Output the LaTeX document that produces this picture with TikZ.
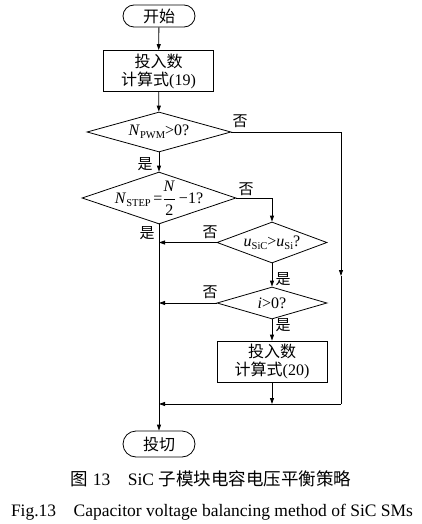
\documentclass[tikz,border=0pt]{standalone}
\usepackage{fontspec}
\setmainfont{Liberation Serif}
\newfontfamily\cjk{Noto Sans CJK SC}
\usetikzlibrary{arrows.meta,shapes.geometric}
\newcommand\mysub[1]{\raisebox{-0.4ex}{\fontsize{10.5}{12}\selectfont #1}}
\begin{document}
\begin{tikzpicture}[x=1pt,y=-1pt,
  font=\fontsize{16}{18}\selectfont,
  line/.style={draw, line width=0.8pt},
  arr/.style={line, -{Triangle[length=6pt,width=4pt]}},
  term/.style={draw, line width=0.8pt, minimum width=72pt, inner sep=0pt},
  proc/.style={draw, line width=0.8pt, minimum width=110pt, minimum height=41pt, inner sep=0pt, align=center},
  dec/.style={draw, diamond, line width=0.8pt, inner sep=0pt},
  lab/.style={font=\cjk\fontsize{15}{17}\selectfont, inner sep=0pt}]
\useasboundingbox (0,0) rectangle (422,524);
% nodes
\node[term, minimum height=22pt, rounded corners=11pt] (start) at (159,16) {\cjk 开始};
\node[proc] (box1) at (158.5,71) {{\cjk 投入数}\\{\cjk 计算式}(19)};
\node[dec, minimum width=144pt, minimum height=40pt] (d1) at (159,132) {};
\node at (d1) {\textit{N}\mysub{PWM}>0?};
\node[dec, minimum width=154pt, minimum height=52pt] (d2) at (159,198) {};
\node at (d2) {\textit{N}\mysub{STEP}\,=$\displaystyle\frac{\mbox{\textit{N}}}{\mbox{2}}$\,−1?};
\node[dec, minimum width=110pt, minimum height=41pt] (d3) at (272,242.5) {};
\node at (d3) {\textit{u}\mysub{SiC}>\textit{u}\mysub{Si}?};
\node[dec, minimum width=110pt, minimum height=32pt] (d4) at (272,303) {};
\node at (d4) {\textit{i}>0?};
\node[proc] (box2) at (272,361.5) {{\cjk 投入数}\\{\cjk 计算式}(20)};
\node[term, minimum height=26pt, rounded corners=13pt] (stop) at (159,444) {\cjk 投切};
% coordinates
\coordinate (rarr) at (341,276);
\coordinate (r2) at (341,404);
\coordinate (m3) at (159,404);
\coordinate (b2m) at (272,404);
% connectors
\draw[arr] (start) -- (box1);
\draw[arr] (box1) -- (d1);
\draw[arr] (d1.south) -- (d2.north);
\draw[arr] (d1.east) -| (rarr);
\draw[line] (rarr) -- (r2);
\draw[arr] (r2) -- (m3);
\draw[arr] (d2.south) -- (stop.north);
\draw[arr] (d2.east) -| (d3.north);
\draw[arr] (d3.west) -- (d3.west -| d2.center);
\draw[arr] (d3.south) -- (d4.north);
\draw[arr] (d4.west) -- (d4.west -| d2.center);
\draw[arr] (d4.south) -- (box2.north);
\draw[arr] (box2.south) -- (b2m);
% labels
\node[lab] (l1) at (240,121) {否};
\node[lab] (l2) at (145,164) {是};
\node[lab] (l3) at (246,189) {否};
\node[lab] (l4) at (147,233) {是};
\node[lab] (l5) at (210,232) {否};
\node[lab] (l6) at (283,279) {是};
\node[lab] (l7) at (210,292) {否};
\node[lab] (l8) at (283,325) {是};
% captions
\node (cap1) at (211,479) {\fontsize{17.5}{20}\selectfont{\cjk 图} 13\quad SiC {\cjk 子模块电容电压平衡策略}};
\node (cap2) at (212,512) {\fontsize{17.5}{20}\selectfont Fig.13\quad Capacitor voltage balancing method of SiC SMs};
\end{tikzpicture}
\end{document}
